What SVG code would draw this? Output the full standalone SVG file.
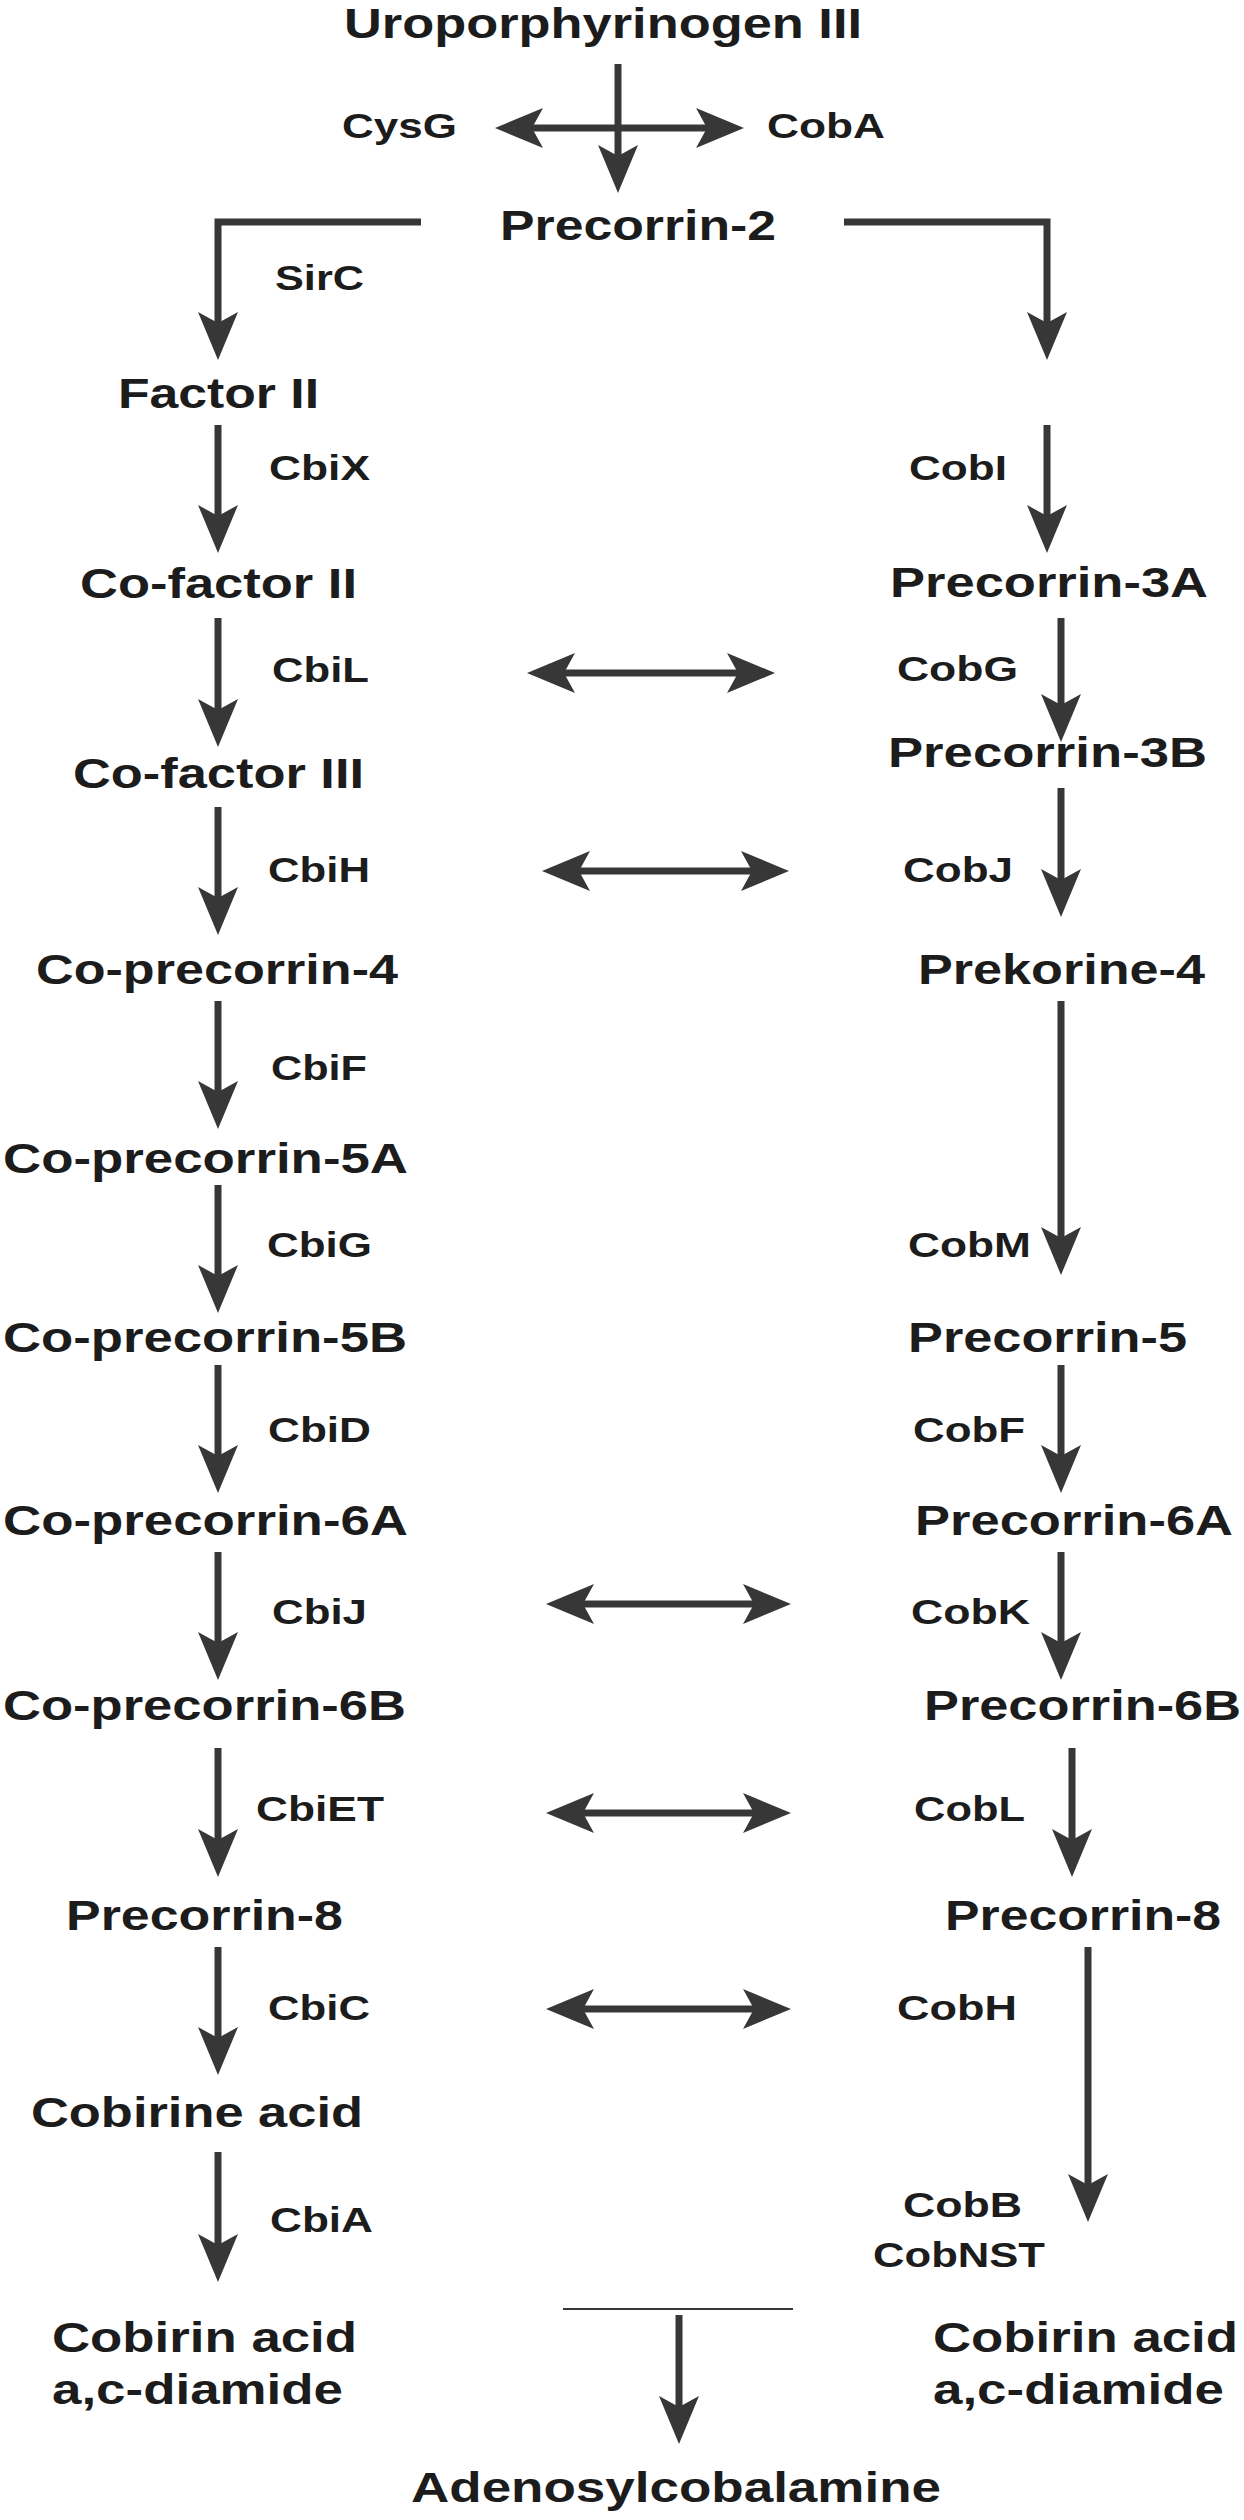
<svg xmlns="http://www.w3.org/2000/svg" width="1244" height="2520" viewBox="0 0 1244 2520">
<style>
.n{font-family:"Liberation Sans",Arial,sans-serif;font-weight:bold;font-size:43px;fill:#1c1c1c}
.e{font-family:"Liberation Sans",Arial,sans-serif;font-weight:bold;font-size:35px;fill:#1c1c1c}
.a{fill:none;stroke:#373737;stroke-width:7;marker-end:url(#h)}
.d{fill:none;stroke:#373737;stroke-width:7;marker-start:url(#h);marker-end:url(#h)}
.t{fill:none;stroke:#373737;stroke-width:2}
</style>
<defs>
<marker id="h" markerUnits="userSpaceOnUse" viewBox="-12 -21 50 42" markerWidth="50" markerHeight="42" refX="0" refY="0" orient="auto-start-reverse" overflow="visible">
<path d="M-11,-20 L37,0 L-11,20 L0,0 Z" fill="#373737"/>
</marker>
</defs>
<rect width="1244" height="2520" fill="#fff"/>
<g id="nodes">
<g id="uro"><text class="n" x="344" y="38" textLength="518" lengthAdjust="spacingAndGlyphs">Uroporphyrinogen III</text></g>
<g id="pre2"><text class="n" x="500" y="240" textLength="276" lengthAdjust="spacingAndGlyphs">Precorrin-2</text></g>
<g id="factor2"><text class="n" x="118" y="408" textLength="201" lengthAdjust="spacingAndGlyphs">Factor II</text></g>
<g id="cofactor2"><text class="n" x="80" y="598" textLength="277" lengthAdjust="spacingAndGlyphs">Co-factor II</text></g>
<g id="cofactor3"><text class="n" x="73" y="788" textLength="291" lengthAdjust="spacingAndGlyphs">Co-factor III</text></g>
<g id="copre4"><text class="n" x="36" y="984" textLength="362" lengthAdjust="spacingAndGlyphs">Co-precorrin-4</text></g>
<g id="copre5a"><text class="n" x="3" y="1173" textLength="405" lengthAdjust="spacingAndGlyphs">Co-precorrin-5A</text></g>
<g id="copre5b"><text class="n" x="3" y="1352" textLength="404" lengthAdjust="spacingAndGlyphs">Co-precorrin-5B</text></g>
<g id="copre6a"><text class="n" x="3" y="1535" textLength="405" lengthAdjust="spacingAndGlyphs">Co-precorrin-6A</text></g>
<g id="copre6b"><text class="n" x="3" y="1720" textLength="403" lengthAdjust="spacingAndGlyphs">Co-precorrin-6B</text></g>
<g id="pre8l"><text class="n" x="66" y="1930" textLength="277" lengthAdjust="spacingAndGlyphs">Precorrin-8</text></g>
<g id="cobirine"><text class="n" x="31" y="2127" textLength="332" lengthAdjust="spacingAndGlyphs">Cobirine acid</text></g>
<g id="diamidel"><text class="n" x="52" y="2352" textLength="305" lengthAdjust="spacingAndGlyphs">Cobirin acid</text><text class="n" x="52" y="2404" textLength="291" lengthAdjust="spacingAndGlyphs">a,c-diamide</text></g>
<g id="pre3a"><text class="n" x="890" y="597" textLength="318" lengthAdjust="spacingAndGlyphs">Precorrin-3A</text></g>
<g id="pre3b"><text class="n" x="888" y="767" textLength="319" lengthAdjust="spacingAndGlyphs">Precorrin-3B</text></g>
<g id="prek4"><text class="n" x="918" y="984" textLength="287" lengthAdjust="spacingAndGlyphs">Prekorine-4</text></g>
<g id="pre5"><text class="n" x="908" y="1352" textLength="279" lengthAdjust="spacingAndGlyphs">Precorrin-5</text></g>
<g id="pre6a"><text class="n" x="915" y="1535" textLength="318" lengthAdjust="spacingAndGlyphs">Precorrin-6A</text></g>
<g id="pre6b"><text class="n" x="924" y="1720" textLength="317" lengthAdjust="spacingAndGlyphs">Precorrin-6B</text></g>
<g id="pre8r"><text class="n" x="945" y="1930" textLength="276" lengthAdjust="spacingAndGlyphs">Precorrin-8</text></g>
<g id="diamider"><text class="n" x="933" y="2352" textLength="305" lengthAdjust="spacingAndGlyphs">Cobirin acid</text><text class="n" x="933" y="2404" textLength="291" lengthAdjust="spacingAndGlyphs">a,c-diamide</text></g>
<g id="adocbl"><text class="n" x="411" y="2502" textLength="530" lengthAdjust="spacingAndGlyphs">Adenosylcobalamine</text></g>
</g>
<g id="connectors">
<path class="a" d="M618,64 V156"/>
<path class="d" d="M532,128 H707"/>
<path class="a" d="M421,222 H218 V323"/>
<path class="a" d="M844,222 H1047 V323"/>
<path class="a" d="M218,425 V516"/>
<path class="a" d="M218,618 V710"/>
<path class="a" d="M218,807 V898"/>
<path class="a" d="M218,1001 V1092"/>
<path class="a" d="M218,1185 V1276"/>
<path class="a" d="M218,1365 V1456"/>
<path class="a" d="M218,1552 V1643"/>
<path class="a" d="M218,1748 V1840"/>
<path class="a" d="M218,1947 V2038"/>
<path class="a" d="M218,2152 V2245"/>
<path class="a" d="M1047,425 V516"/>
<path class="a" d="M1061,618 V705"/>
<path class="a" d="M1061,788 V880"/>
<path class="a" d="M1061,1001 V1238"/>
<path class="a" d="M1061,1365 V1456"/>
<path class="a" d="M1061,1552 V1643"/>
<path class="a" d="M1072,1748 V1840"/>
<path class="a" d="M1088,1947 V2185"/>
<path class="d" d="M564,673 H738"/>
<path class="d" d="M579,871 H752"/>
<path class="d" d="M583,1604 H754"/>
<path class="d" d="M583,1813 H754"/>
<path class="d" d="M583,2009 H754"/>
<path class="t" d="M563,2309 H793"/>
<path class="a" d="M679,2315 V2407"/>
<g id="enzymes">
<text class="e" x="342" y="138" textLength="115" lengthAdjust="spacingAndGlyphs">CysG</text>
<text class="e" x="767" y="138" textLength="118" lengthAdjust="spacingAndGlyphs">CobA</text>
<text class="e" x="275" y="290" textLength="89" lengthAdjust="spacingAndGlyphs">SirC</text>
<text class="e" x="269" y="480" textLength="101" lengthAdjust="spacingAndGlyphs">CbiX</text>
<text class="e" x="272" y="682" textLength="97" lengthAdjust="spacingAndGlyphs">CbiL</text>
<text class="e" x="268" y="882" textLength="102" lengthAdjust="spacingAndGlyphs">CbiH</text>
<text class="e" x="271" y="1080" textLength="96" lengthAdjust="spacingAndGlyphs">CbiF</text>
<text class="e" x="267" y="1257" textLength="105" lengthAdjust="spacingAndGlyphs">CbiG</text>
<text class="e" x="268" y="1442" textLength="103" lengthAdjust="spacingAndGlyphs">CbiD</text>
<text class="e" x="272" y="1624" textLength="95" lengthAdjust="spacingAndGlyphs">CbiJ</text>
<text class="e" x="256" y="1821" textLength="128" lengthAdjust="spacingAndGlyphs">CbiET</text>
<text class="e" x="268" y="2020" textLength="102" lengthAdjust="spacingAndGlyphs">CbiC</text>
<text class="e" x="270" y="2232" textLength="103" lengthAdjust="spacingAndGlyphs">CbiA</text>
<text class="e" x="909" y="480" textLength="98" lengthAdjust="spacingAndGlyphs">CobI</text>
<text class="e" x="897" y="681" textLength="121" lengthAdjust="spacingAndGlyphs">CobG</text>
<text class="e" x="903" y="882" textLength="110" lengthAdjust="spacingAndGlyphs">CobJ</text>
<text class="e" x="908" y="1257" textLength="123" lengthAdjust="spacingAndGlyphs">CobM</text>
<text class="e" x="913" y="1442" textLength="112" lengthAdjust="spacingAndGlyphs">CobF</text>
<text class="e" x="911" y="1624" textLength="119" lengthAdjust="spacingAndGlyphs">CobK</text>
<text class="e" x="914" y="1821" textLength="111" lengthAdjust="spacingAndGlyphs">CobL</text>
<text class="e" x="897" y="2020" textLength="120" lengthAdjust="spacingAndGlyphs">CobH</text>
<text class="e" x="903" y="2217" textLength="119" lengthAdjust="spacingAndGlyphs">CobB</text>
<text class="e" x="873" y="2267" textLength="172" lengthAdjust="spacingAndGlyphs">CobNST</text>
</g>
</g>
</svg>
